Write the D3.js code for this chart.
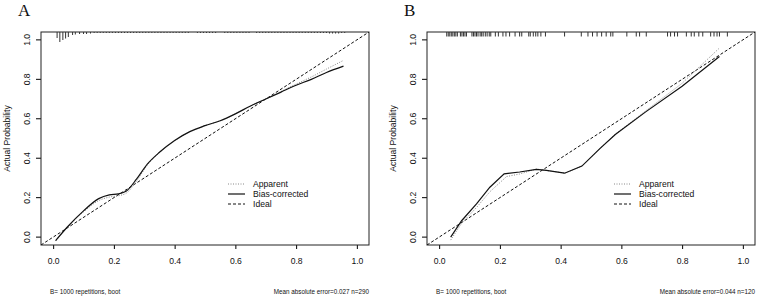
<!DOCTYPE html>
<html>
<head>
<meta charset="utf-8">
<script src="https://cdn.jsdelivr.net/npm/d3@7"></script>
<style>
  body { margin: 0; background: #fff; }
  svg text { font-family: "Liberation Sans", Arial, sans-serif; fill: #111; }
</style>
</head>
<body>
<svg id="chart" width="761" height="300"></svg>
<script>
// ---- data ----
const xTicks = [0, 0.2, 0.4, 0.6, 0.8, 1.0];
const yTicks = [0, 0.2, 0.4, 0.6, 0.8, 1.0];
const legendLabels = ['Apparent', 'Bias-corrected', 'Ideal'];

// panel A: calibration curves [predicted, actual]
const apparentA = [[0.008, -0.02], [0.046, 0.048], [0.10, 0.128], [0.15, 0.185], [0.185, 0.203], [0.215, 0.21], [0.24, 0.222], [0.275, 0.285], [0.31, 0.365], [0.35, 0.428], [0.40, 0.488], [0.45, 0.534], [0.50, 0.565], [0.55, 0.59], [0.60, 0.625], [0.65, 0.665], [0.70, 0.70], [0.75, 0.738], [0.80, 0.776], [0.85, 0.812], [0.90, 0.852], [0.956, 0.896]];
const biasA = [[0.008, -0.018], [0.046, 0.05], [0.10, 0.133], [0.15, 0.195], [0.185, 0.214], [0.215, 0.219], [0.24, 0.232], [0.275, 0.295], [0.31, 0.37], [0.35, 0.43], [0.40, 0.49], [0.45, 0.535], [0.50, 0.565], [0.55, 0.59], [0.60, 0.625], [0.65, 0.665], [0.70, 0.70], [0.75, 0.735], [0.80, 0.77], [0.85, 0.80], [0.90, 0.835], [0.956, 0.867]];
// panel A: spike histogram of predictions [predicted, count]
const spikesA = [[0.013, 12], [0.022, 20], [0.032, 16], [0.041, 13], [0.05, 10], [0.064, 6], [0.073, 5], [0.087, 4], [0.10, 4], [0.11, 4], [0.123, 3], [0.135, 2], [0.145, 2], [0.155, 2], [0.165, 2], [0.175, 2], [0.185, 2], [0.195, 2], [0.205, 2], [0.215, 2], [0.225, 2], [0.235, 2], [0.245, 2], [0.255, 2], [0.265, 2], [0.275, 2], [0.285, 2], [0.295, 2], [0.305, 2], [0.315, 2], [0.325, 2], [0.335, 2], [0.345, 2], [0.355, 2], [0.365, 2], [0.375, 2], [0.385, 2], [0.395, 2], [0.405, 2], [0.415, 2], [0.425, 2], [0.435, 2], [0.445, 2], [0.475, 2], [0.485, 2], [0.495, 2], [0.505, 2], [0.515, 2], [0.525, 2], [0.535, 2], [0.565, 2], [0.575, 2], [0.585, 2], [0.595, 2], [0.605, 2], [0.615, 2], [0.625, 2], [0.635, 2], [0.645, 2], [0.67, 2], [0.68, 2], [0.69, 2], [0.70, 2], [0.71, 2], [0.72, 2], [0.73, 2], [0.74, 2], [0.75, 2], [0.76, 2], [0.77, 2], [0.78, 2], [0.79, 2], [0.80, 2], [0.81, 2], [0.82, 2], [0.83, 2], [0.84, 2], [0.85, 2], [0.86, 2], [0.87, 2], [0.88, 2], [0.89, 2], [0.90, 2], [0.91, 3], [0.92, 3], [0.93, 3], [0.94, 3], [0.95, 2], [0.96, 2]];

// panel B
const apparentB = [[0.038, -0.015], [0.074, 0.07], [0.123, 0.15], [0.167, 0.23], [0.222, 0.307], [0.265, 0.32], [0.32, 0.345], [0.353, 0.338], [0.413, 0.324], [0.47, 0.36], [0.53, 0.45], [0.58, 0.522], [0.68, 0.64], [0.8, 0.78], [0.923, 0.959]];
const biasB = [[0.038, 0.0], [0.074, 0.083], [0.123, 0.168], [0.167, 0.253], [0.214, 0.321], [0.265, 0.33], [0.32, 0.343], [0.353, 0.338], [0.413, 0.324], [0.47, 0.36], [0.53, 0.45], [0.58, 0.52], [0.68, 0.635], [0.8, 0.765], [0.923, 0.916]];
const spikesB = [[0.025, 1], [0.03, 1], [0.035, 1], [0.04, 1], [0.045, 1], [0.05, 1], [0.055, 1], [0.06, 1], [0.07, 1], [0.075, 1], [0.08, 1], [0.085, 1], [0.09, 1], [0.108, 1], [0.113, 1], [0.118, 1], [0.123, 1], [0.128, 1], [0.135, 1], [0.14, 1], [0.145, 1], [0.152, 1], [0.158, 1], [0.165, 1], [0.17, 1], [0.185, 1], [0.195, 1], [0.21, 1], [0.22, 1], [0.232, 1], [0.25, 1], [0.265, 1], [0.272, 1], [0.295, 1], [0.30, 1], [0.31, 1], [0.318, 1], [0.325, 1], [0.335, 1], [0.35, 1], [0.413, 1], [0.468, 1], [0.49, 1], [0.505, 1], [0.52, 1], [0.535, 1], [0.55, 1], [0.565, 1], [0.572, 1], [0.618, 1], [0.649, 1], [0.66, 1], [0.682, 1], [0.752, 1], [0.762, 1], [0.775, 1], [0.785, 1], [0.814, 1], [0.83, 1], [0.84, 1], [0.855, 1], [0.868, 1], [0.894, 1], [0.905, 1], [0.915, 1], [0.923, 1], [0.949, 1]];

const panels = [
  { letter: 'A', left: 0, apparent: apparentA, bias: biasA, spikes: spikesA, maxCount: 20, spikeLen: 10, curve: d3.curveMonotoneX, note: 'Mean absolute error=0.027 n=290' },
  { letter: 'B', left: 386, apparent: apparentB, bias: biasB, spikes: spikesB, maxCount: 1, spikeLen: 4.5, curve: d3.curveLinear, note: 'Mean absolute error=0.044 n=120' }
];

const svg = d3.select('#chart');

panels.forEach(p => drawPanel(p));

function drawPanel(p) {
  const box = { left: 41, right: 369, top: 32, bottom: 245 };
  const g = svg.append('g').attr('transform', `translate(${p.left},0)`);

  const x = d3.scaleLinear().domain([-0.04, 1.04]).range([box.left, box.right]);
  const y = d3.scaleLinear().domain([-0.04, 1.04]).range([box.bottom, box.top]);

  // panel letter
  g.append('text')
    .attr('x', 18).attr('y', 16)
    .style('font-family', '"Liberation Serif", "Times New Roman", serif')
    .style('font-size', '17px')
    .text(p.letter);

  // axes
  const xAxis = d3.axisBottom(x).tickValues(xTicks).tickFormat(d3.format('.1f')).tickSize(4).tickPadding(7);
  const yAxis = d3.axisLeft(y).tickValues(yTicks).tickFormat(d3.format('.1f')).tickSize(5).tickPadding(6);

  const xg = g.append('g').attr('transform', `translate(0,${box.bottom})`).call(xAxis);
  xg.select('.domain').remove();
  xg.selectAll('text').style('font-size', '8.6px').attr('dy', '0.9em');

  const yg = g.append('g').attr('transform', `translate(${box.left},0)`).call(yAxis);
  yg.select('.domain').remove();
  yg.selectAll('.tick').attr('transform', null);
  yg.selectAll('.tick line').attr('transform', d => `translate(0,${y(d)})`);
  yg.selectAll('text')
    .style('font-size', '8.6px')
    .attr('text-anchor', 'middle')
    .attr('x', 0).attr('y', 0).attr('dy', 0)
    .attr('transform', d => `translate(-11,${y(d)}) rotate(-90)`);

  // frame
  g.append('rect')
    .attr('x', box.left).attr('y', box.top)
    .attr('width', box.right - box.left).attr('height', box.bottom - box.top)
    .attr('fill', 'none').attr('stroke', '#222').attr('stroke-width', 1);

  // y label
  g.append('text')
    .attr('transform', `translate(10,${(box.top + box.bottom) / 2}) rotate(-90)`)
    .attr('text-anchor', 'middle')
    .style('font-size', '8.6px')
    .text('Actual Probability');

  // spike histogram at top
  const len = d3.scaleLinear().domain([0, p.maxCount]).range([0, p.spikeLen]);
  g.append('g').selectAll('line')
    .data(p.spikes)
    .join('line')
    .attr('x1', d => x(d[0])).attr('x2', d => x(d[0]))
    .attr('y1', box.top).attr('y2', d => box.top + len(d[1]))
    .attr('stroke', '#333').attr('stroke-width', 1);

  const clipId = 'clip' + p.letter;
  g.append('clipPath').attr('id', clipId)
    .append('rect')
    .attr('x', box.left).attr('y', box.top)
    .attr('width', box.right - box.left).attr('height', box.bottom - box.top);

  const plot = g.append('g').attr('clip-path', `url(#${clipId})`);

  // ideal line
  plot.append('line')
    .attr('x1', x(-0.04)).attr('y1', y(-0.04))
    .attr('x2', x(1.04)).attr('y2', y(1.04))
    .attr('stroke', '#111').attr('stroke-width', 1)
    .attr('stroke-dasharray', '3,2');

  const line = d3.line().x(d => x(d[0])).y(d => y(d[1])).curve(p.curve);

  plot.append('path').datum(p.apparent)
    .attr('d', line).attr('fill', 'none')
    .attr('stroke', '#888').attr('stroke-width', 1)
    .attr('stroke-dasharray', '1,1.5');

  plot.append('path').datum(p.bias)
    .attr('d', line).attr('fill', 'none')
    .attr('stroke', '#111').attr('stroke-width', 1.2);

  // legend
  const styles = [
    { stroke: '#888', dash: '1,1.5', w: 1 },
    { stroke: '#111', dash: null, w: 1.2 },
    { stroke: '#111', dash: '3,2', w: 1 }
  ];
  const leg = g.append('g').attr('transform', 'translate(228,184)');
  legendLabels.forEach((lab, i) => {
    leg.append('line')
      .attr('x1', 0).attr('x2', 17)
      .attr('y1', i * 10).attr('y2', i * 10)
      .attr('stroke', styles[i].stroke)
      .attr('stroke-width', styles[i].w)
      .attr('stroke-dasharray', styles[i].dash);
    leg.append('text')
      .attr('x', 25).attr('y', i * 10).attr('dy', '0.35em')
      .style('font-size', '8.6px')
      .text(lab);
  });

  // bottom notes
  g.append('text')
    .attr('x', 50).attr('y', 294)
    .style('font-size', '6.3px')
    .text('B= 1000 repetitions, boot');
  g.append('text')
    .attr('x', box.right).attr('y', 294)
    .attr('text-anchor', 'end')
    .style('font-size', '6.3px')
    .text(p.note);
}
</script>
</body>
</html>
